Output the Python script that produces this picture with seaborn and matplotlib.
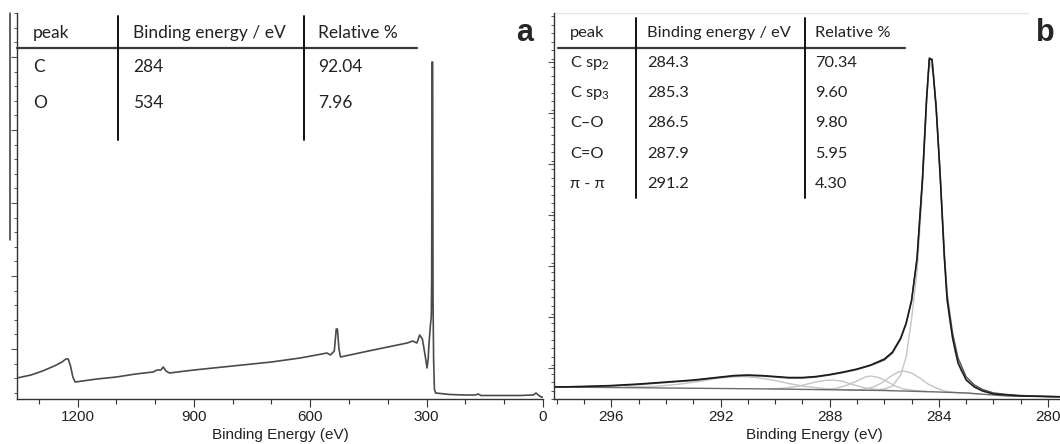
import pandas as pd
import matplotlib.pyplot as plt
import seaborn as sns
from matplotlib.ticker import MultipleLocator
from matplotlib.lines import Line2D

# --- panel a: survey spectrum ---
survey_ev = [1356, 1320, 1290, 1260, 1240, 1230, 1224, 1218, 1212, 1206, 1150, 1100, 1050,
             1005, 995, 985, 979, 972, 963, 900, 800, 700, 626, 570, 557, 548, 538, 533,
             530, 526, 522, 450, 400, 350, 336, 325, 318, 311, 304, 299, 296, 294, 290,
             288, 287, 286, 284.5, 283.5, 282, 280, 277, 240, 200, 175, 167, 160, 100,
             60, 25, 18, 12, 5, 0]
survey_int = [21, 24, 28, 33, 37, 40, 40, 33, 22, 17, 20, 22, 25,
              27, 29, 29, 32, 28, 26, 29, 33, 37, 41, 45, 46, 44, 48, 70,
              70, 50, 42, 48, 52, 56, 58, 56, 64, 60, 44, 31, 40, 55, 75,
              82, 120, 337, 337, 100, 40, 10, 6, 4.5, 4, 4, 5, 3.5, 3.5,
              3.5, 4, 6, 4, 2, 2]

# --- panel b: C1s high resolution ---
c1s_ev = [298.1, 297, 296, 295, 294, 293, 292.5, 292, 291.5, 291, 290.5, 290, 289.5, 289,
          288.5, 288, 287.5, 287, 286.5, 286, 285.7, 285.4, 285.2, 285.0, 284.8, 284.6,
          284.45, 284.35, 284.25, 284.1, 283.95, 283.8, 283.7, 283.5, 283.3, 283.0, 282.7,
          282.4, 282.0, 281.5, 281, 280, 279.05]
c1s_raw = [12, 12.5, 13.5, 15, 17, 19, 20.5, 22, 23.5, 24, 23.5, 22.5, 21.5, 21.5,
           22.5, 24.5, 27, 30, 34, 40, 47, 61, 76, 99, 141, 221,
           301, 341, 339, 291, 221, 141, 99, 61, 36, 19, 12,
           8, 5, 4, 3, 2.5, 2]
c1s_fit = [12, 12.5, 13, 14.5, 16.5, 18.5, 20, 21.5, 23, 23.5, 23, 22, 21, 21,
           22, 24, 26.5, 29.5, 33.5, 39, 46, 60, 75, 98, 140, 220,
           300, 339, 340, 293, 224, 146, 104, 66, 41, 22, 14,
           9.5, 6, 4.5, 3.5, 2.5, 2]

bg_ev = [298.1, 294, 290, 286, 284, 283, 282.5, 281.5, 279.05]
bg_int = [12, 11, 10, 8.5, 7, 6, 5, 3, 2]

sp2_ev = [286.5, 286.0, 285.7, 285.4, 285.2, 285.0, 284.8, 284.6, 284.45, 284.35, 284.2,
          284.0, 283.8, 283.6, 283.4, 283.2, 283.0, 282.7, 282.4, 282.0, 281.0, 279.05]
sp2_int = [8.5, 10, 13, 24, 42, 80, 128, 210, 295, 339, 325,
           250, 140, 78, 46, 29, 19, 12, 8, 5, 3, 2]

sp3_ev = [287.3, 286.8, 286.4, 286.1, 285.8, 285.5, 285.3, 285.0, 284.7, 284.4, 284.1,
          283.8, 283.4, 283.0, 282.5]
sp3_int = [8.5, 9.5, 12, 16, 22, 27, 28, 26, 21, 15, 11, 8, 6.5, 6, 5]

co_ev = [288.3, 287.8, 287.4, 287.0, 286.7, 286.5, 286.2, 285.9, 285.6, 285.3, 284.9, 284.4]
co_int = [9.5, 10.5, 13.5, 18, 22, 23, 21.5, 17.5, 13, 10, 8.5, 7.5]

cdo_ev = [290.2, 289.6, 289.1, 288.6, 288.2, 287.9, 287.5, 287.1, 286.7, 286.3, 285.8]
cdo_int = [10, 11, 13, 16.5, 18.5, 19, 17.5, 14, 11, 9.5, 8.5]

pipi_ev = [295.5, 294.5, 293.6, 292.8, 292.2, 291.6, 291.2, 290.7, 290.1, 289.5, 288.9,
           288.2, 287.4, 286.6]
pipi_int = [12, 12.5, 14.5, 17.5, 20.5, 22, 22.5, 21.5, 19, 15.5, 12.5, 10.5, 9.3, 8.7]

# --- tables ---
table_header = ["peak", "Binding energy / eV", "Relative %"]
table_a_rows = [["C", "284", "92.04"],
                ["O", "534", "7.96"]]
table_b_rows = [["C sp$_{\\mathregular{2}}$", "284.3", "70.34"],
                ["C sp$_{\\mathregular{3}}$", "285.3", "9.60"],
                ["C\u2013O", "286.5", "9.80"],
                ["C=O", "287.9", "5.95"],
                ["\u03c0 - \u03c0", "291.2", "4.30"]]

sns.set_style("ticks")
plt.rcParams['font.family'] = ['Liberation Sans', 'DejaVu Sans']
plt.rcParams['mathtext.fontset'] = 'custom'
plt.rcParams['mathtext.rm'] = 'Lato'

W, H = 1060, 444
fig = plt.figure(figsize=(W / 100, H / 100), dpi=100)


def fx(px):
    return px / W


def fy(py):
    return 1 - py / H


def style_axis(ax):
    sns.despine(ax=ax)
    for s in ['left', 'bottom']:
        ax.spines[s].set_color('#333333')
        ax.spines[s].set_linewidth(1.0)
    ax.tick_params(axis='x', which='major', length=6, width=0.8, color='#333333',
                   labelsize=11, pad=2, labelcolor='#222222')
    ax.tick_params(axis='x', which='minor', length=3.5, width=0.8, color='#333333')
    ax.tick_params(axis='y', which='major', length=4, width=0.8, color='#555555', labelleft=False)
    ax.tick_params(axis='y', which='minor', length=2.5, width=0.7, color='#555555')
    ax.set_xlabel("Binding Energy (eV)", fontsize=11, labelpad=3, color='#222222')
    ax.set_ylabel("")


# --- panel a ---
ax_a = fig.add_axes([fx(17), fy(399), fx(543) - fx(17), (399 - 13) / H])
df_a = pd.DataFrame({"ev": survey_ev, "counts": survey_int})
sns.lineplot(data=df_a, x="ev", y="counts", ax=ax_a, color='#4a4a4a', linewidth=1.2,
             estimator=None, sort=False)
ax_a.set_xlim(1356, 0)
ax_a.set_ylim(0, 386)
ax_a.xaxis.set_major_locator(MultipleLocator(300))
ax_a.xaxis.set_minor_locator(MultipleLocator(100))
ax_a.yaxis.set_major_locator(MultipleLocator(73, offset=50))
ax_a.yaxis.set_minor_locator(MultipleLocator(14.6, offset=6.2))
style_axis(ax_a)

# --- panel b ---
ax_b = fig.add_axes([fx(554), fy(399), fx(1074) - fx(554), (399 - 13) / H])
comp_color = '#c4c4c4'
for ev, iv in [(pipi_ev, pipi_int), (cdo_ev, cdo_int), (co_ev, co_int),
               (sp3_ev, sp3_int), (sp2_ev, sp2_int)]:
    sns.lineplot(x=ev, y=iv, ax=ax_b, color=comp_color, linewidth=1.0, estimator=None, sort=False)
sns.lineplot(x=bg_ev, y=bg_int, ax=ax_b, color='#6b6b6b', linewidth=1.0, estimator=None, sort=False)
sns.lineplot(x=c1s_ev, y=c1s_fit, ax=ax_b, color='#555555', linewidth=1.1, estimator=None, sort=False)
sns.lineplot(x=c1s_ev, y=c1s_raw, ax=ax_b, color='#1a1a1a', linewidth=1.1, estimator=None, sort=False)
ax_b.set_xlim(298.1, 279.05)
ax_b.set_ylim(0, 386)
ax_b.xaxis.set_major_locator(MultipleLocator(4))
ax_b.xaxis.set_minor_locator(MultipleLocator(1))
ax_b.yaxis.set_major_locator(MultipleLocator(51, offset=31))
ax_b.yaxis.set_minor_locator(MultipleLocator(8.5))
style_axis(ax_b)

# --- tables drawn on top ---
tfont = ['Lato', 'DejaVu Sans']


def draw_table(rows, col_x, head_y, row_y, vline_x, vline_y, hline_x, size):
    for txt, x in zip(table_header, col_x):
        fig.text(fx(x), fy(head_y), txt, ha='left', va='center', fontsize=size,
                 family=tfont, color='#222222')
    for row, y in zip(rows, row_y):
        for txt, x in zip(row, col_x):
            fig.text(fx(x), fy(y), txt, ha='left', va='center', fontsize=size,
                     family=tfont, color='#222222')
    fig.add_artist(Line2D([fx(hline_x[0]), fx(hline_x[1])], [fy(head_y + 15), fy(head_y + 15)],
                          transform=fig.transFigure, color='#3a3a3a', linewidth=1.6))
    for x in vline_x:
        fig.add_artist(Line2D([fx(x), fx(x)], [fy(vline_y[0]), fy(vline_y[1])],
                              transform=fig.transFigure, color='#111111', linewidth=1.4))


draw_table(table_a_rows, [33, 133, 318], 33, [67, 103], [118, 304], [16, 140], [17, 417], 12.5)
draw_table(table_b_rows, [570, 647, 815], 33, [63, 93, 123, 154, 184], [636, 805], [18, 198],
           [558, 905], 11.8)

# frame remnants of the pasted tables
fig.add_artist(Line2D([fx(10), fx(10)], [fy(13), fy(240)], transform=fig.transFigure,
                      color='#333333', linewidth=1.1))
fig.add_artist(Line2D([fx(556), fx(1028)], [fy(13), fy(13)], transform=fig.transFigure,
                      color='#e6e6e6', linewidth=1.0))

# panel letters
fig.text(fx(525), fy(33), "a", ha='center', va='center', fontsize=22, fontweight='bold')
fig.text(fx(1045), fy(33), "b", ha='center', va='center', fontsize=22, fontweight='bold')

fig.savefig("out.png", dpi=100)
